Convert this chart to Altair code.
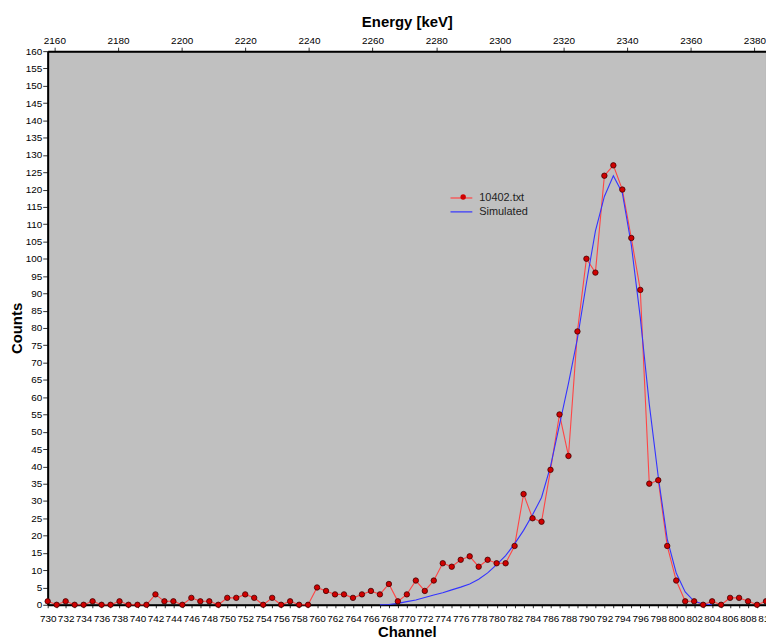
import altair as alt
import pandas as pd

# ---- data ----
channels = list(range(730, 811))
counts = [1, 0, 1, 0, 0, 1, 0, 0, 1, 0,          # 730-739
          0, 0, 3, 1, 1, 0, 2, 1, 1, 0,          # 740-749
          2, 2, 3, 2, 0, 2, 0, 1, 0, 0,          # 750-759
          5, 4, 3, 3, 2, 3, 4, 3, 6, 1,          # 760-769
          3, 7, 4, 7, 12, 11, 13, 14, 11, 13,    # 770-779
          12, 12, 17, 32, 25, 24, 39, 55, 43, 79,  # 780-789
          100, 96, 124, 127, 120, 106, 91, 35, 36, 17,  # 790-799
          7, 1, 1, 0, 1, 0, 2, 2, 1, 0,          # 800-809
          1]                                     # 810

sim_channels = list(range(767, 805))
sim_counts = [0, 0.1, 0.4, 0.9, 1.4, 2.1, 2.8, 3.5, 4.3, 5.1,   # 767-776
              6.0, 7.4, 9.2, 11.6, 14.2, 17.6, 21.5, 26.0, 31.0, 40.0,  # 777-786
              52.0, 64.0, 77.0, 93.0, 108.0, 118.0, 124.0, 119.0, 104.0, 83.0,  # 787-796
              58.0, 37.0, 19.0, 9.2, 3.7, 1.0, 0.2, 0.0]  # 797-804

series_names = ["10402.txt", "Simulated"]
series_colors = ["#ff4444", "#3333ff"]

channel_domain = [730, 810]
count_domain = [0, 160]
count_ticks = list(range(0, 161, 5))
energy_domain = [2157.9, 2383.65]
energy_ticks = list(range(2160, 2381, 20))

FONT = "Liberation Sans"

# ---- tables ----
meas = pd.DataFrame({"channel": channels, "counts": counts, "series": series_names[0]})
sim = pd.DataFrame({"channel": sim_channels, "counts": sim_counts, "series": series_names[1]})
lines_df = pd.concat([meas, sim], ignore_index=True)
energy_df = pd.DataFrame({"energy": energy_domain})

x_chan = alt.X(
    "channel:Q",
    scale=alt.Scale(domain=channel_domain, nice=False, zero=False),
    axis=alt.Axis(
        title="Channel", orient="bottom", values=channels, format="d",
        labelExpr="datum.value % 2 === 0 ? datum.label : ''",
        labelOverlap=False, labelFlush=False, tickSize=3, labelPadding=6,
        titlePadding=1, domainWidth=2, domainColor="#000000",
        tickColor="#333333", grid=False,
    ),
)
y_counts = alt.Y(
    "counts:Q",
    scale=alt.Scale(domain=count_domain, nice=False, zero=True),
    axis=alt.Axis(
        title="Counts", values=count_ticks, format="d", tickSize=5,
        labelPadding=1, titlePadding=1, domainWidth=2, domainColor="#000000",
        tickColor="#333333", grid=False, labelOverlap=False, labelFlush=False,
    ),
)

LEG_X, LEG_Y = 410.5, 141.5

line_legend = alt.Legend(
    title=None, orient="none", legendX=LEG_X, legendY=LEG_Y, padding=0,
    symbolType="M-2,0H2", symbolSize=121, symbolStrokeWidth=1.2,
    labelFont=FONT, labelFontSize=11, labelColor="#222222", labelOffset=11.5,
    rowPadding=2,
)

dot_legend = alt.Legend(
    title=None, orient="none", legendX=LEG_X + 2.76, legendY=LEG_Y, padding=0,
    symbolType="circle", symbolSize=30, symbolFillColor="#d00000",
    symbolStrokeColor="#400000", symbolStrokeWidth=0.8,
    labelFont=FONT, labelFontSize=11, labelExpr="''", rowPadding=2,
)

lines = alt.Chart(lines_df).mark_line(strokeWidth=1.1).encode(
    x=x_chan,
    y=y_counts,
    color=alt.Color("series:N",
                    scale=alt.Scale(domain=series_names, range=series_colors),
                    legend=line_legend),
    order=alt.Order("channel:Q"),
)

points = alt.Chart(meas).mark_point(
    filled=True, size=30, fill="#d00000", stroke="#400000", strokeWidth=0.8, opacity=1
).encode(
    x=x_chan,
    y=y_counts,
    shape=alt.Shape("series:N", scale=alt.Scale(domain=[series_names[0]], range=["circle"]),
                    legend=dot_legend),
)

energy = alt.Chart(energy_df).mark_point(opacity=0).encode(
    x=alt.X(
        "energy:Q",
        scale=alt.Scale(domain=energy_domain, nice=False, zero=False),
        axis=alt.Axis(
            title="Energy [keV]", orient="top", values=energy_ticks, format="d",
            tickSize=4, labelPadding=2, titlePadding=6, domainWidth=2,
            domainColor="#000000", tickColor="#333333", grid=False,
            labelFlush=False,
        ),
    ),
    y=alt.value(0),
)

chart = alt.layer(alt.layer(lines, points), energy).resolve_scale(
    x="independent"
).properties(
    width=724, height=558,
    background="#ffffff",
    autosize=alt.AutoSizeParams(type="none"),
    padding={"left": 40, "top": 41, "right": 0, "bottom": 32},
).configure_view(
    fill="#c0c0c0", stroke="#000000", strokeWidth=1
).configure_axis(
    labelFont=FONT, labelFontSize=10, labelColor="#000000",
    titleFont=FONT, titleFontSize=15, titleFontWeight="bold", titleColor="#000000",
)

chart.save("out.html", embed_options={"renderer": "svg", "actions": False})
